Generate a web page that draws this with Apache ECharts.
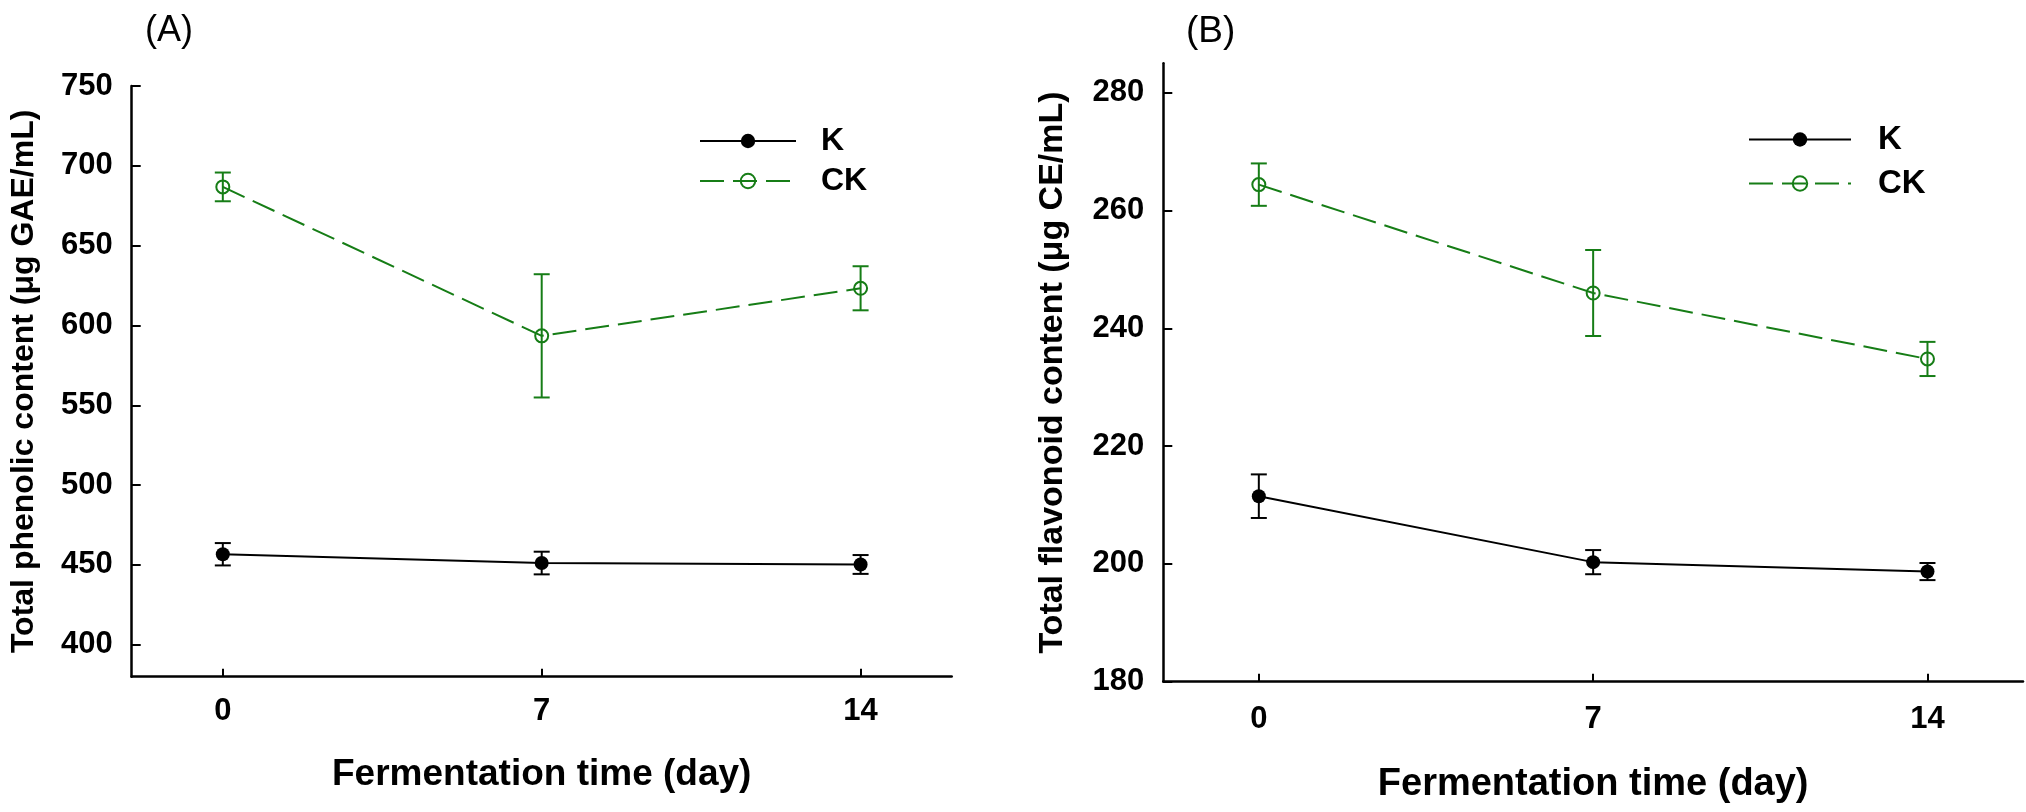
<!DOCTYPE html>
<html>
<head>
<meta charset="utf-8">
<script src="https://cdn.jsdelivr.net/npm/echarts@6/dist/echarts.min.js"></script>
<style>html,body{margin:0;padding:0;background:#fff}#c{width:2026px;height:812px}</style>
</head>
<body>
<div id="c"></div>
<script>
// ---- data ----
const days = [0, 7, 14];
const xTicks = [0, 7, 14];
const phenolicK = [456.7, 451.2, 450.3];
const phenolicKErr = [7.0, 7.1, 5.9];
const phenolicCK = [686.8, 593.5, 623.3];
const phenolicCKErr = [9.0, 38.6, 13.8];
const flavonoidK = [211.5, 200.3, 198.7];
const flavonoidKErr = [3.7, 2.05, 1.45];
const flavonoidCK = [264.4, 246.0, 234.8];
const flavonoidCKErr = [3.6, 7.3, 2.9];
const yTicksA = [400, 450, 500, 550, 600, 650, 700, 750];
const yTicksB = [180, 200, 220, 240, 260, 280];

const BLACK = '#000000';
const GREEN = '#167d16';
const FONT = '"Liberation Sans", Arial, sans-serif';

const pts = (vals) => days.map((d, i) => [d, vals[i]]);
const errs = (vals, e) => days.map((d, i) => [d, vals[i] - e[i], vals[i] + e[i]]);

function errRender(color) {
  return function (params, api) {
    const x = api.value(0), lo = api.value(1), hi = api.value(2);
    const t = api.coord([x, hi]), b = api.coord([x, lo]);
    const hw = 8;
    const st = { stroke: color, lineWidth: 2 };
    return {
      type: 'group',
      children: [
        { type: 'line', shape: { x1: t[0], y1: t[1], x2: b[0], y2: b[1] }, style: st },
        { type: 'line', shape: { x1: t[0] - hw, y1: t[1], x2: t[0] + hw, y2: t[1] }, style: st },
        { type: 'line', shape: { x1: b[0] - hw, y1: b[1], x2: b[0] + hw, y2: b[1] }, style: st }
      ]
    };
  };
}

function xAxis(gi, nameGap, nameSize, labelMargin) {
  return {
    type: 'value', gridIndex: gi, min: -2, max: 16,
    name: 'Fermentation time (day)', nameLocation: 'middle', nameGap: nameGap,
    nameTextStyle: { fontFamily: FONT, fontWeight: 'bold', fontSize: nameSize, color: BLACK },
    axisLine: { show: true, onZero: false, lineStyle: { color: BLACK, width: 2.5 } },
    axisTick: { show: true, inside: true, length: 8, customValues: xTicks, lineStyle: { color: BLACK, width: 2 } },
    axisLabel: { customValues: xTicks, margin: labelMargin, fontFamily: FONT, fontWeight: 'bold', fontSize: 31, color: BLACK },
    splitLine: { show: false }
  };
}
function yAxis(gi, min, max, ticks, name, nameGap, nameSize) {
  return {
    type: 'value', gridIndex: gi, min: min, max: max,
    name: name, nameLocation: 'middle', nameGap: nameGap,
    nameTextStyle: { fontFamily: FONT, fontWeight: 'bold', fontSize: nameSize, color: BLACK },
    axisLine: { show: true, onZero: false, lineStyle: { color: BLACK, width: 2.5 } },
    axisTick: { show: true, inside: true, length: 9, customValues: ticks, lineStyle: { color: BLACK, width: 2 } },
    axisLabel: { customValues: ticks, margin: 19, fontFamily: FONT, fontWeight: 'bold', fontSize: 31, color: BLACK },
    splitLine: { show: false }
  };
}

function lineK(xi, yi, data) {
  return {
    name: 'K', type: 'line', xAxisIndex: xi, yAxisIndex: yi, data: data, z: 3,
    symbol: 'circle', symbolSize: 14,
    itemStyle: { color: BLACK },
    lineStyle: { color: BLACK, width: 2 }
  };
}
function lineCK(xi, yi, data) {
  return {
    name: 'CK', type: 'line', xAxisIndex: xi, yAxisIndex: yi, data: data, z: 3,
    symbol: 'circle', symbolSize: 13,
    itemStyle: { color: 'rgba(255,255,255,0)', borderColor: GREEN, borderWidth: 2 },
    lineStyle: { color: GREEN, width: 2, type: [24, 9] }
  };
}
function errSeries(xi, yi, data, color) {
  return {
    type: 'custom', name: 'err', xAxisIndex: xi, yAxisIndex: yi, data: data, z: 2,
    renderItem: errRender(color), encode: { x: 0, y: [1, 2] }, silent: true
  };
}

const chart = echarts.init(document.getElementById('c'), null, { renderer: 'canvas' });
chart.setOption({
  animation: false,
  backgroundColor: '#ffffff',
  title: [
    { text: '(A)', left: 140, top: 8, textStyle: { fontFamily: FONT, fontWeight: 'normal', fontSize: 36, color: BLACK } },
    { text: '(B)', left: 1181, top: 8, textStyle: { fontFamily: FONT, fontWeight: 'normal', fontSize: 37, color: BLACK } }
  ],
  legend: [
    {
      data: ['K', 'CK'], orient: 'vertical', left: 694, top: 120,
      itemWidth: 96, itemHeight: 18, itemGap: 8,
      textStyle: { fontFamily: FONT, fontWeight: 'bold', fontSize: 32, color: BLACK, lineHeight: 32, padding: [0, 0, 0, 20] }
    },
    {
      data: ['K', 'CK'], orient: 'vertical', left: 1743, top: 118,
      itemWidth: 102, itemHeight: 18, itemGap: 11,
      textStyle: { fontFamily: FONT, fontWeight: 'bold', fontSize: 33, color: BLACK, lineHeight: 33, padding: [0, 0, 0, 22] }
    }
  ],
  grid: [
    { left: 131.7, right: 1074.3, top: 86, bottom: 135.3 },
    { left: 1163.3, right: 3, top: 63.3, bottom: 130.3 }
  ],
  xAxis: [xAxis(0, 80, 37, 19), xAxis(1, 84, 38, 22)],
  yAxis: [
    yAxis(0, 380, 750, yTicksA, 'Total phenolic content (\u03bcg GAE/mL)', 92, 32),
    yAxis(1, 180, 285, yTicksB, 'Total flavonoid content (\u03bcg CE/mL)', 94, 34)
  ],
  series: [
    errSeries(0, 0, errs(phenolicK, phenolicKErr), BLACK),
    errSeries(0, 0, errs(phenolicCK, phenolicCKErr), GREEN),
    lineK(0, 0, pts(phenolicK)),
    lineCK(0, 0, pts(phenolicCK)),
    errSeries(1, 1, errs(flavonoidK, flavonoidKErr), BLACK),
    errSeries(1, 1, errs(flavonoidCK, flavonoidCKErr), GREEN),
    lineK(1, 1, pts(flavonoidK)),
    lineCK(1, 1, pts(flavonoidCK))
  ]
});
</script>
</body>
</html>
